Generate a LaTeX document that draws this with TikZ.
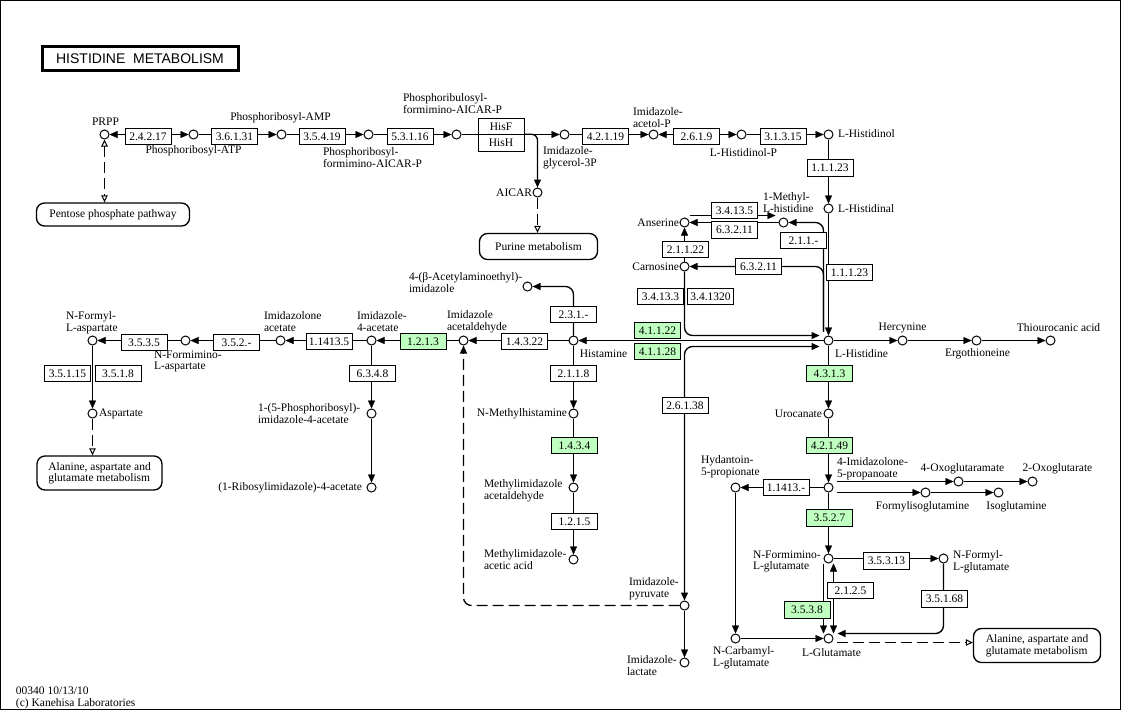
\documentclass[tikz,border=0pt]{standalone}
\usepackage{fontspec}
\setmainfont{Liberation Serif}
\newfontfamily\keggsans{Liberation Sans}
\usepackage{tikz}
\usetikzlibrary{arrows.meta,backgrounds}
\definecolor{keggreen}{RGB}{191,255,191}
\tikzset{>={Triangle[length=8pt,width=7pt]}}
\tikzset{
  cpd/.style={circle,draw,minimum size=9pt,inner sep=0pt},
  enz/.style={draw,fill=white,minimum width=46pt,minimum height=16.5pt,inner sep=0pt},
  gene/.style={enz,fill=keggreen},
  lbl/.style={inner sep=0pt,align=left},
  mapbox/.style={draw,fill=white,rounded corners=8pt,line width=1.35pt,align=left,inner sep=0pt},
  elbow/.style={rounded corners=8pt,line width=1.35pt},
  link/.style={dash pattern=on 11pt off 5pt},
  hollow/.style={-{Triangle[open,length=7pt,width=6.5pt,line width=1pt]}}
}

\begin{document}
\begin{tikzpicture}[x=1pt,y=-1pt,line width=1pt,font=\fontsize{11.5}{11.5}\selectfont]
    \useasboundingbox (-0.5,-0.5) rectangle (1123.5,712.5);
    \draw (0,0) rectangle (1120,709);

    \node [draw,line width=3pt,minimum width=196pt,minimum height=24pt,inner sep=0pt,
           font=\keggsans\fontsize{14}{14}\selectfont] (title) at (139.5,58) {HISTIDINE\ \ METABOLISM};
    \node [lbl,anchor=west] (stamp) at (15,697.5) {00340 10/13/10\\(c) Kanehisa Laboratories};

    % compounds
    \node [cpd] (prpp) at (104,134) {};
    \node [cpd] (prATP) at (193,134) {};
    \node [cpd] (prAMP) at (281,134) {};
    \node [cpd] (prfar) at (368,134) {};
    \node [cpd] (prbfar) at (456,134) {};
    \node [cpd] (igp) at (564,134) {};
    \node [cpd] (aicar) at (537,192) {};
    \node [cpd] (iap) at (653,134) {};
    \node [cpd] (hisolp) at (741,134) {};
    \node [cpd] (hisol) at (828,134) {};
    \node [cpd] (hisal) at (828,208) {};
    \node [cpd] (his) at (828,340) {};
    \node [cpd] (anserine) at (684,222) {};
    \node [cpd] (mhis) at (783,222) {};
    \node [cpd] (carnosine) at (684,266) {};
    \node [cpd] (histamine) at (573,340) {};
    \node [cpd] (acetyl) at (527,286) {};
    \node [cpd] (imacet) at (463,340) {};
    \node [cpd] (im4ac) at (371,340) {};
    \node [cpd] (prim4ac) at (371,413) {};
    \node [cpd] (ribim) at (371,487) {};
    \node [cpd] (imoac) at (280,340) {};
    \node [cpd] (nfasp) at (185,340) {};
    \node [cpd] (nformasp) at (92,340) {};
    \node [cpd] (asp) at (92,413) {};
    \node [cpd] (nmh) at (573,413) {};
    \node [cpd] (miacald) at (573,487) {};
    \node [cpd] (miaa) at (573,559) {};
    \node [cpd] (impyr) at (684,605) {};
    \node [cpd] (imlac) at (684,662) {};
    \node [cpd] (herc) at (902,340) {};
    \node [cpd] (ergo) at (976,340) {};
    \node [cpd] (thio) at (1050,340) {};
    \node [cpd] (uro) at (828,413) {};
    \node [cpd] (imp) at (828,487) {};
    \node [cpd] (oxam) at (958,481) {};
    \node [cpd] (oxg) at (1032,481) {};
    \node [cpd] (fig) at (925,492) {};
    \node [cpd] (iglu) at (998,492) {};
    \node [cpd] (hyd) at (735,487) {};
    \node [cpd] (ncg) at (735,638) {};
    \node [cpd] (glu) at (828,638) {};
    \node [cpd] (nfig) at (828,558) {};
    \node [cpd] (nfglu) at (943,558) {};

    % enzymes
    \node [enz] (e24217) at (147.5,136) {2.4.2.17};
    \node [enz] (e36131) at (234,136) {3.6.1.31};
    \node [enz] (e35419) at (321.5,136) {3.5.4.19};
    \node [enz] (e53116) at (409.5,136) {5.3.1.16};
    \node [enz] (hisF) at (500.5,126) {HisF};
    \node [enz] (hisH) at (500.5,142.5) {HisH};
    \node [enz] (e42119) at (605,136) {4.2.1.19};
    \node [enz] (e2619) at (696,136) {2.6.1.9};
    \node [enz] (e31315) at (782.5,136) {3.1.3.15};
    \node [enz] (e11123a) at (829.5,167.5) {1.1.1.23};
    \node [enz] (e11123b) at (849,272) {1.1.1.23};
    \node [enz] (e34135) at (734,210) {3.4.13.5};
    \node [enz] (e63211a) at (734,229.5) {6.3.2.11};
    \node [enz] (e211) at (803,240) {2.1.1.-};
    \node [enz] (e21122) at (685,249) {2.1.1.22};
    \node [enz] (e63211b) at (758,266) {6.3.2.11};
    \node [enz] (e34133) at (660,296) {3.4.13.3};
    \node [enz] (e341320) at (710,296) {3.4.1320};
    \node [gene] (e41122) at (657,330) {4.1.1.22};
    \node [gene] (e41128) at (657,351) {4.1.1.28};
    \node [enz] (e26138) at (684.5,405) {2.6.1.38};
    \node [gene] (e4313) at (829,373) {4.3.1.3};
    \node [gene] (e42149) at (829,445) {4.2.1.49};
    \node [enz] (e231) at (573,314) {2.3.1.-};
    \node [enz] (e14322) at (524,341) {1.4.3.22};
    \node [enz] (e2118) at (573,373) {2.1.1.8};
    \node [gene] (e1434) at (574,445) {1.4.3.4};
    \node [enz] (e1215) at (574,521) {1.2.1.5};
    \node [gene] (e1213) at (422.5,341) {1.2.1.3};
    \node [enz] (e114135) at (328.5,341) {1.1413.5};
    \node [enz] (e6348) at (372,373) {6.3.4.8};
    \node [enz] (e352) at (236,342) {3.5.2.-};
    \node [enz] (e3535) at (143.5,342) {3.5.3.5};
    \node [enz] (e35115) at (67,373) {3.5.1.15};
    \node [enz] (e3518) at (117.5,373) {3.5.1.8};
    \node [enz] (e11413) at (785.5,487) {1.1413.-};
    \node [gene] (e3527) at (829,517.5) {3.5.2.7};
    \node [enz] (e35313) at (886,560.5) {3.5.3.13};
    \node [enz] (e35168) at (944,598.5) {3.5.1.68};
    \node [gene] (e3538) at (806.5,609.5) {3.5.3.8};
    \node [enz] (e2125) at (850,590) {2.1.2.5};

    % other maps
    \node [mapbox,minimum width=153pt,minimum height=23pt] (pentose) at (112.5,214) {Pentose phosphate pathway};
    \node [mapbox,minimum width=118pt,minimum height=26pt] (purine) at (538,246) {Purine metabolism};
    \node [mapbox,minimum width=125pt,minimum height=34pt] (ala1) at (99,472.5) {Alanine, aspartate and\\glutamate metabolism};
    \node [mapbox,minimum width=127pt,minimum height=34pt] (ala2) at (1036.5,645) {Alanine, aspartate and\\glutamate metabolism};

    % compound names
    \node [lbl] (prppL) at (105,121) {PRPP};
    \node [lbl] (prATPL) at (193,150) {Phosphoribosyl-ATP};
    \node [lbl] (prAMPL) at (280,117) {Phosphoribosyl-AMP};
    \node [lbl,anchor=west] (prfarL) at (322,157) {Phosphoribosyl-\\formimino-AICAR-P};
    \node [lbl,anchor=west] (prbfarL) at (402,103) {Phosphoribulosyl-\\formimino-AICAR-P};
    \node [lbl,anchor=west] (igpL) at (542,157) {Imidazole-\\glycerol-3P};
    \node [lbl,anchor=east] (aicarL) at (532,192) {AICAR};
    \node [lbl,anchor=west] (iapL) at (632,117) {Imidazole-\\acetol-P};
    \node [lbl] (hisolpL) at (743,152) {L-Histidinol-P};
    \node [lbl,anchor=west] (hisolL) at (837,133) {L-Histidinol};
    \node [lbl,anchor=west] (hisalL) at (837,208) {L-Histidinal};
    \node [lbl,anchor=west] (mhisL) at (762,202) {1-Methyl-\\L-histidine};
    \node [lbl,anchor=east] (anserineL) at (679,222) {Anserine};
    \node [lbl,anchor=east] (carnosineL) at (679,266) {Carnosine};
    \node [lbl,anchor=west] (acetylL) at (408,282) {4-(β-Acetylaminoethyl)-\\imidazole};
    \node [lbl,anchor=west] (imacetL) at (446,321) {Imidazole\\acetaldehyde};
    \node [lbl] (histamineL) at (603,353) {Histamine};
    \node [lbl,anchor=west] (im4acL) at (356,321) {Imidazole-\\4-acetate};
    \node [lbl,anchor=west] (imoacL) at (263,321) {Imidazolone\\acetate};
    \node [lbl,anchor=west] (nformaspL) at (65,322) {N-Formyl-\\L-aspartate};
    \node [lbl,anchor=west] (nfaspL) at (153,361) {N-Formimino-\\L-aspartate};
    \node [lbl,anchor=west] (aspL) at (98,413) {Aspartate};
    \node [lbl,anchor=west] (prim4acL) at (257,413) {1-(5-Phosphoribosyl)-\\imidazole-4-acetate};
    \node [lbl,anchor=east] (ribimL) at (362,487) {(1-Ribosylimidazole)-4-acetate};
    \node [lbl,anchor=east] (nmhL) at (567,413) {N-Methylhistamine};
    \node [lbl,anchor=west] (miacaldL) at (483,490) {Methylimidazole\\acetaldehyde};
    \node [lbl,anchor=west] (miaaL) at (483,559) {Methylimidazole-\\acetic acid};
    \node [lbl,anchor=west] (impyrL) at (628,588) {Imidazole-\\pyruvate};
    \node [lbl,anchor=west] (imlacL) at (626,665) {Imidazole-\\lactate};
    \node [lbl,anchor=west] (hisL) at (834,353) {L-Histidine};
    \node [lbl] (hercL) at (902,327) {Hercynine};
    \node [lbl] (ergoL) at (977,353) {Ergothioneine};
    \node [lbl] (thioL) at (1058,327) {Thiourocanic acid};
    \node [lbl,anchor=east] (uroL) at (822,413) {Urocanate};
    \node [lbl,anchor=west] (impL) at (836,468) {4-Imidazolone-\\5-propanoate};
    \node [lbl] (oxamL) at (962,468) {4-Oxoglutaramate};
    \node [lbl] (oxgL) at (1057,468) {2-Oxoglutarate};
    \node [lbl] (figL) at (922,506) {Formylisoglutamine};
    \node [lbl] (igluL) at (1016,506) {Isoglutamine};
    \node [lbl,anchor=west] (hydL) at (700,466) {Hydantoin-\\5-propionate};
    \node [lbl,anchor=west] (ncgL) at (712,657) {N-Carbamyl-\\L-glutamate};
    \node [lbl] (gluL) at (831,652) {L-Glutamate};
    \node [lbl,anchor=west] (nfigL) at (752,561) {N-Formimino-\\L-glutamate};
    \node [lbl,anchor=west] (nfgluL) at (952,561) {N-Formyl-\\L-glutamate};

    \coordinate (hisT) at ([xshift=-5pt,yshift=4pt]his.north);
    \coordinate (hisA) at ([xshift=-4pt,yshift=5pt]his.west);
    \coordinate (hisB) at ([xshift=-4pt,yshift=-6pt]his.west);
    \coordinate (impA) at ([xshift=3pt,yshift=6pt]imp.east);
    \coordinate (impB) at ([xshift=3pt,yshift=-5pt]imp.east);
    \coordinate (gluA) at ([xshift=4pt,yshift=5pt]glu.east);
    \coordinate (gluout) at ([xshift=3pt,yshift=-4pt]glu.east);

    \begin{pgfonlayer}{background}
    \draw[<->] (prpp) to (prATP);
    \draw[->] (prATP) to (prAMP);
    \draw[->] (prAMP) to (prfar);
    \draw[->] (prfar) to (prbfar);
    \draw[->] (prbfar) to (igp);
    \draw[->,elbow,rounded corners=6pt] (hisH.north east) -| (aicar);
    \draw[->] (igp) to (iap);
    \draw[<->] (iap) to (hisolp);
    \draw[->] (hisolp) to (hisol);
    \draw[->] (hisol) to (hisal);
    \draw[->] (hisal) to (his);
    \draw[link,{Triangle[open,length=7pt,width=6.5pt,line width=1pt]}-{Triangle[open,length=7pt,width=6.5pt,line width=1pt]}] (prpp) -- (prpp |- pentose.north);
    \draw[link,hollow] (aicar) -- (aicar |- purine.north);
    % around L-histidine
    \draw[->,elbow] (hisT) |- (mhis);
    \draw[->,elbow] (hisT) |- (carnosine);
    \draw[->] ([yshift=7pt]anserine.east) -- ([xshift=-3pt,yshift=7pt]mhis.west);
    \draw[->] (mhis) to (anserine);
    \draw[->] (carnosine) to (anserine);
    \draw[->,elbow] (carnosine) |- (hisA);
    \draw[<->,elbow] (impyr) |- (hisB);
    \draw[->] (his) to (histamine);
    % histamine and imidazole acetate
    \draw[->,elbow] (histamine) |- (acetyl);
    \draw[->] (histamine) to (imacet);
    \draw[->] (histamine) to (nmh);
    \draw[->] (nmh) to (miacald);
    \draw[->] (miacald) to (miaa);
    \draw[->] (impyr) to (imlac);
    \draw[link,->,elbow] (impyr) -| (imacet);
    \draw[->] (imacet) to (im4ac);
    \draw[->] (im4ac) to (imoac);
    \draw[->] (imoac) to (nfasp);
    \draw[->] (nfasp) to (nformasp);
    \draw[->] (nformasp) to (asp);
    \draw[link,hollow] (asp) -- (asp |- ala1.north);
    \draw[->] (im4ac) to (prim4ac);
    \draw[->] (prim4ac) to (ribim);
    % degradation
    \draw[->] (his) to (herc);
    \draw[->] (herc) to (ergo);
    \draw[->] (ergo) to (thio);
    \draw[->] (his) to (uro);
    \draw[->] (uro) to (imp);
    \draw[->] (impA) to (oxam);
    \draw[->] (oxam) to (oxg);
    \draw[->] (impB) to (fig);
    \draw[->] (fig) to (iglu);
    \draw[->] (imp) to (hyd);
    \draw[->] (hyd) to (ncg);
    \draw[->] (ncg) to (glu);
    \draw[->] (imp) to (nfig);
    \draw[->] (nfig) to (nfglu);
    \draw[->,elbow] (nfglu) |- (gluA);
    \draw[->] ([xshift=-5pt]nfig.south) -- ([xshift=-5pt]glu.north);
    \draw[<->] ([xshift=5pt]nfig.south) -- ([xshift=5pt]glu.north);
    \draw[link,hollow] (gluout) -- (gluout -| ala2.west);
    \end{pgfonlayer}

\end{tikzpicture}
\end{document}
